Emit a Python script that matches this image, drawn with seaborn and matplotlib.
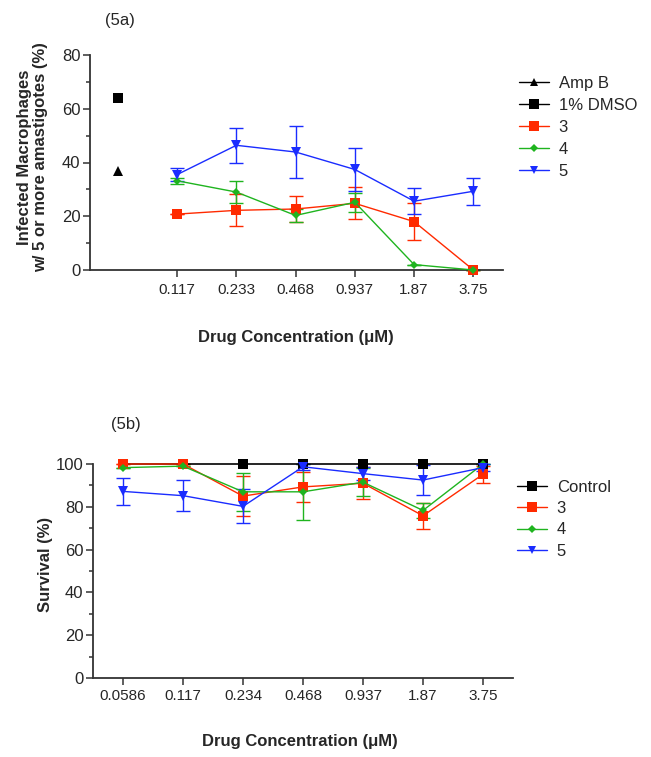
import numpy as np
import matplotlib
matplotlib.use("Agg")
import matplotlib.pyplot as plt
from matplotlib.lines import Line2D
import seaborn as sns

# ---------------------------------------------------------
# data
# ---------------------------------------------------------
conc_a = ["0.117", "0.233", "0.468", "0.937", "1.87", "3.75"]
ampb_a = 37.0
dmso_a = 64.0
c3_a = [20.8, 22.2, 22.7, 24.8, 18.0, 0.0]
c3_a_err = [0.0, 6.0, 5.0, 6.0, 7.0, 0.0]
c4_a = [33.2, 29.0, 20.3, 25.2, 2.0, 0.0]
c4_a_err = [1.2, 4.2, 2.3, 3.5, 0.0, 0.0]
c5_a = [35.5, 46.4, 43.9, 37.4, 25.6, 29.3]
c5_a_err = [2.5, 6.4, 9.5, 8.0, 4.8, 5.1]

conc_b = ["0.0586", "0.117", "0.234", "0.468", "0.937", "1.87", "3.75"]
ctrl_b = [100, 100, 100, 100, 100, 100, 100]
c3_b = [100, 100, 85.0, 89.3, 91.0, 75.8, 95.2]
c3_b_err = [0, 0, 9.5, 7.0, 7.5, 6.0, 4.0]
c4_b = [98.3, 99.0, 87.0, 87.0, 91.5, 78.3, 100]
c4_b_err = [0, 0, 9.0, 13.0, 6.5, 3.5, 0]
c5_b = [87.2, 85.2, 80.2, 98.7, 95.5, 92.5, 98.3]
c5_b_err = [6.4, 7.3, 8.0, 1.5, 3.0, 7.0, 1.5]

RED = "#ff2a00"
GREEN = "#1fb41f"
BLUE = "#1a2cff"
BLACK = "#000000"

sns.set_theme(style="ticks")
plt.rcParams["font.family"] = ["Liberation Sans", "DejaVu Sans"]

fig = plt.figure(figsize=(6.51, 7.57), dpi=100)
W, H = 651, 757


def add_ax(l, t, r, b):
    return fig.add_axes([l / W, 1 - b / H, (r - l) / W, (b - t) / H])


def draw_series(ax, x, y, err, color, marker, ms):
    ax.errorbar(x, y, yerr=err, fmt="none", ecolor=color, elinewidth=1.0,
                capsize=5, capthick=1.0, clip_on=False, zorder=2)
    sns.lineplot(x=x, y=y, ax=ax, color=color, marker=marker, markersize=ms,
                 markeredgewidth=0, linewidth=1.0, clip_on=False, zorder=3)


def style_axis(ax, ymax, ystep):
    sns.despine(ax=ax)
    for s in ("left", "bottom"):
        ax.spines[s].set_linewidth(1.3)
        ax.spines[s].set_color("#333333")
    ax.set_ylim(0, ymax)
    ax.set_yticks(np.arange(0, ymax + 1, ystep))
    ax.set_yticks(np.arange(ystep / 2, ymax, ystep), minor=True)
    ax.tick_params(axis="y", which="major", labelsize=12, length=5, width=1.1,
                   color="#333333", pad=2)
    ax.tick_params(axis="y", which="minor", length=3, width=1.1, color="#333333")
    ax.tick_params(axis="x", labelsize=11, length=5, width=1.1,
                   color="#333333", pad=4)
    ax.set_facecolor("white")


# ---------------------------------------------------------
# (5a)
# ---------------------------------------------------------
ax1 = add_ax(90, 55, 503, 270)
pos_a = np.arange(1, len(conc_a) + 1)

sns.lineplot(x=[0], y=[ampb_a], ax=ax1, color=BLACK, marker="^",
             markersize=7, markeredgewidth=0, linewidth=0, clip_on=False)
sns.lineplot(x=[0], y=[dmso_a], ax=ax1, color=BLACK, marker="s",
             markersize=7.5, markeredgewidth=0, linewidth=0, clip_on=False)
draw_series(ax1, pos_a, c3_a, c3_a_err, RED, "s", 7.5)
draw_series(ax1, pos_a, c4_a, c4_a_err, GREEN, "D", 4.5)
draw_series(ax1, pos_a, c5_a, c5_a_err, BLUE, "v", 7)

style_axis(ax1, 80, 20)
ax1.set_xlim(-0.47, 6.5)
ax1.set_xticks(pos_a)
ax1.set_xticklabels(conc_a)
ax1.set_xlabel("Drug Concentration (\u03bcM)", fontsize=12, fontweight="bold")
ax1.xaxis.set_label_coords((296 - 90) / (503 - 90), -(330 - 270) / (270 - 55))
ax1.set_ylabel("Infected Macrophages\nw/ 5 or more amastigotes (%)",
               fontsize=12, fontweight="bold", linespacing=1.05)
ax1.yaxis.set_label_coords(-(90 - 48) / (503 - 90), (270 - 157.5) / (270 - 55))

fig.text(120 / W, 1 - 20 / H, "(5a)", fontsize=12, ha="center", va="center")

handles_a = [
    Line2D([], [], color=BLACK, marker="^", markersize=6, lw=1, mew=0),
    Line2D([], [], color=BLACK, marker="s", markersize=6.5, lw=1, mew=0),
    Line2D([], [], color=RED, marker="s", markersize=7, lw=1, mew=0),
    Line2D([], [], color=GREEN, marker="D", markersize=4, lw=1, mew=0),
    Line2D([], [], color=BLUE, marker="v", markersize=6, lw=1, mew=0),
]
fig.legend(handles_a, ["Amp B", "1% DMSO", "3", "4", "5"],
           loc="upper left", bbox_to_anchor=(512 / W, 1 - 69 / H),
           frameon=False, fontsize=12, handlelength=1.8, handletextpad=0.6,
           labelspacing=0.42, borderaxespad=0)

# ---------------------------------------------------------
# (5b)
# ---------------------------------------------------------
ax2 = add_ax(93, 464, 513, 678)
pos_b = np.arange(len(conc_b))

sns.lineplot(x=pos_b, y=ctrl_b, ax=ax2, color=BLACK, marker="s",
             markersize=7.5, markeredgewidth=0, linewidth=1.2, clip_on=False,
             zorder=3)
draw_series(ax2, pos_b, c3_b, c3_b_err, RED, "s", 7.5)
draw_series(ax2, pos_b, c4_b, c4_b_err, GREEN, "D", 4.5)
draw_series(ax2, pos_b, c5_b, c5_b_err, BLUE, "v", 7)

style_axis(ax2, 100, 20)
ax2.set_xlim(-0.5, 6.5)
ax2.set_xticks(pos_b)
ax2.set_xticklabels(conc_b)
ax2.tick_params(axis="x", pad=3)
ax2.set_xlabel("Drug Concentration (\u03bcM)", fontsize=12, fontweight="bold")
ax2.xaxis.set_label_coords((300 - 93) / (513 - 93), -(734 - 678) / (678 - 464))
ax2.set_ylabel("Survival (%)", fontsize=12, fontweight="bold")
ax2.yaxis.set_label_coords(-(93 - 53) / (513 - 93), (678 - 564) / (678 - 464))

fig.text(126 / W, 1 - 425 / H, "(5b)", fontsize=12, ha="center", va="center")

handles_b = [
    Line2D([], [], color=BLACK, marker="s", markersize=6.5, lw=1, mew=0),
    Line2D([], [], color=RED, marker="s", markersize=7, lw=1, mew=0),
    Line2D([], [], color=GREEN, marker="D", markersize=4, lw=1, mew=0),
    Line2D([], [], color=BLUE, marker="v", markersize=6, lw=1, mew=0),
]
fig.legend(handles_b, ["Control", "3", "4", "5"],
           loc="upper left", bbox_to_anchor=(510 / W, 1 - 473 / H),
           frameon=False, fontsize=12, handlelength=1.8, handletextpad=0.6,
           labelspacing=0.38, borderaxespad=0)

fig.savefig("out.png", dpi=100, facecolor="white")
